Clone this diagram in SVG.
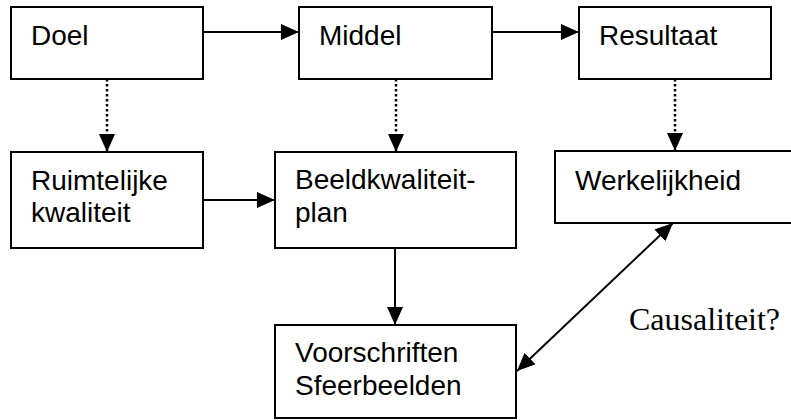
<svg xmlns="http://www.w3.org/2000/svg" width="791" height="420" viewBox="0 0 791 420">
<style>
.box{fill:#fff;stroke:#000;stroke-width:2}
.t{font-family:"Liberation Sans",Arial,sans-serif;font-size:28px;fill:#000}
.c{font-family:"Liberation Serif","Times New Roman",serif;font-size:32px;fill:#000}
.a{stroke:#000;stroke-width:2;fill:none}
.d{stroke:#000;stroke-width:2.5;fill:none;stroke-dasharray:2.5 2.5}
</style>
<defs>
<marker id="ah" markerUnits="userSpaceOnUse" viewBox="0 0 18 16" markerWidth="18" markerHeight="16" refX="18" refY="8" orient="auto-start-reverse">
<path d="M0,0 L18,8 L0,16 z" fill="#000"/>
</marker>
</defs>
<rect width="791" height="420" fill="#fff"/>
<g id="doel"><rect class="box" x="11" y="7" width="192" height="72"/><text class="t" x="31" y="45">Doel</text></g>
<g id="middel"><rect class="box" x="299" y="7" width="193" height="72"/><text class="t" x="319" y="45">Middel</text></g>
<g id="resultaat"><rect class="box" x="579" y="7" width="192" height="72"/><text class="t" x="599" y="45">Resultaat</text></g>
<g id="ruimtelijke"><rect class="box" x="11" y="152" width="192" height="96"/><text class="t" x="31" y="190">Ruimtelijke</text><text class="t" x="31" y="222">kwaliteit</text></g>
<g id="beeldkwaliteitplan"><rect class="box" x="275" y="152" width="241" height="96"/><text class="t" x="295" y="189">Beeldkwaliteit-</text><text class="t" x="295" y="222">plan</text></g>
<g id="werkelijkheid"><rect class="box" x="555" y="151" width="250" height="72"/><text class="t" x="575" y="190">Werkelijkheid</text></g>
<g id="voorschriften"><rect class="box" x="275" y="325" width="241" height="93"/><text class="t" x="295" y="362">Voorschriften</text><text class="t" x="295" y="395">Sfeerbeelden</text></g>
<g id="connectors">
<line class="a" x1="203" y1="32" x2="299" y2="32" marker-end="url(#ah)"/>
<line class="a" x1="492" y1="32" x2="579" y2="32" marker-end="url(#ah)"/>
<line class="d" x1="107" y1="79" x2="107" y2="152" marker-end="url(#ah)"/>
<line class="d" x1="396" y1="79" x2="396" y2="152" marker-end="url(#ah)"/>
<line class="d" x1="675" y1="79" x2="675" y2="151" marker-end="url(#ah)"/>
<line class="a" x1="203" y1="200" x2="275" y2="200" marker-end="url(#ah)"/>
<line class="a" x1="395" y1="248" x2="395" y2="325" marker-end="url(#ah)"/>
<line class="a" x1="673" y1="223" x2="517" y2="371" marker-start="url(#ah)" marker-end="url(#ah)"/>
</g>
<text class="c" x="629" y="330">Causaliteit?</text>
</svg>
